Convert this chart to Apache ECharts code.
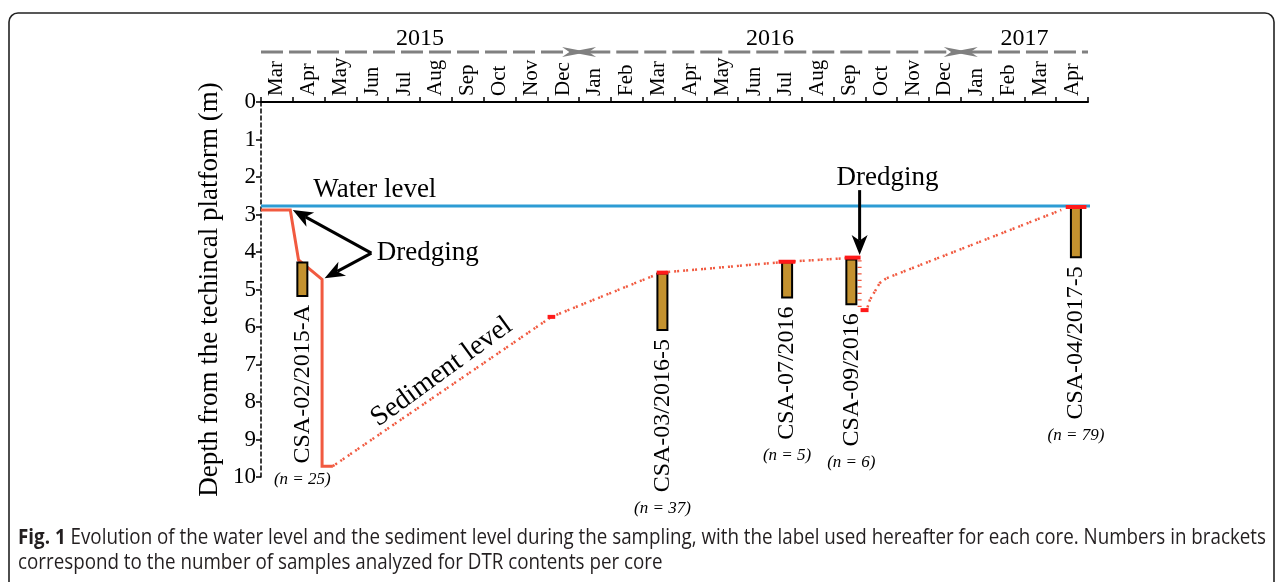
<!DOCTYPE html>
<html><head><meta charset="utf-8">
<script src="https://cdn.jsdelivr.net/npm/echarts/dist/echarts.min.js"></script>
<style>html,body{margin:0;padding:0;background:#fff}#c{width:1281px;height:582px}</style>
</head><body><div id="c"></div>
<script>
// ---------- data ----------
const months = ['Mar','Apr','May','Jun','Jul','Aug','Sep','Oct','Nov','Dec','Jan','Feb','Mar','Apr','May','Jun','Jul','Aug','Sep','Oct','Nov','Dec','Jan','Feb','Mar','Apr'];
const years = ['2015','2016','2017'];
const yearSpans = [[0,10],[10,22],[22,26]];          // months since 1 Mar 2015
const yearArrows = [[0,1],[1,1],[1,0]];             // arrow at start / end
const waterLevel = [[0,2.77],[26.1,2.77]];
const sedimentSolid = [[0,2.88],[0.92,2.88],[1.18,4.21],[1.92,4.73],[1.92,9.71],[2.26,9.71]];
const sedimentDotted1 = [[2.26,9.71],[9.13,5.73],[12.58,4.55],[16.52,4.26],[18.7,4.15]];
const sedimentDredge = [[18.82,4.22],[18.82,5.5]];
const sedimentDotted2 = [[19.04,5.55],[19.14,5.28],[19.45,4.83],[19.66,4.7],[25.16,2.88]];
const surveyMarks = [[9.01,9.25,5.73],[12.44,12.8,4.55],[16.27,16.8,4.26],[18.35,18.85,4.15],[18.85,19.1,5.55],[25.3,25.95,2.8]];
const coreNames = ['CSA-02/2015-A','CSA-03/2016-5','CSA-07/2016','CSA-09/2016','CSA-04/2017-5'];
const coreMonth = [1.30,12.62,16.54,18.56,25.62];
const coreTop = [4.28,4.57,4.27,4.2,2.79];
const coreBottom = [5.17,6.08,5.21,5.39,4.14];
const coreN = [25,37,5,6,79];
const arrows = [[3.47,4.03,1.0,2.88],[3.47,4.03,2.0,4.7],[18.82,2.35,18.82,4.08]];
const annoText = ['Water level','Dredging','Dredging','Sediment level'];
const annoPos = [[3.58,2.35],[5.24,4.03],[19.7,2.03],[5.68,7.2]];
const annoAngle = [0,0,0,36];
const yName = 'Depth from the techincal platform (m)';
const captionBold = 'Fig. 1';
const caption1 = ' Evolution of the water level and the sediment level during the sampling, with the label used hereafter for each core. Numbers in brackets';
const caption2 = 'correspond to the number of samples analyzed for DTR contents per core';

// ---------- helpers ----------
const SERIF = '"Liberation Serif","Times New Roman",serif';
const _ctx = document.createElement('canvas').getContext('2d');
function textW(t, font){ _ctx.font = font; return _ctx.measureText(t).width; }
function head(tip, dir, L, H, fill){
  const n = [-dir[1], dir[0]];
  const b = [tip[0]-dir[0]*L, tip[1]-dir[1]*L];
  const m = [tip[0]-dir[0]*L*0.72, tip[1]-dir[1]*L*0.72];
  return {type:'polygon', shape:{points:[tip,[b[0]+n[0]*H,b[1]+n[1]*H],m,[b[0]-n[0]*H,b[1]-n[1]*H]]}, style:{fill:fill}};
}
const RED = '#f15a40', CAP = '#ff1a1a';
const dotted = {color:RED, width:2.5, type:[2,1,2,4], cap:'butt'};

const chart = echarts.init(document.getElementById('c'), null, {renderer:'canvas'});
const option = {
  animation:false,
  backgroundColor:'#fff',
  grid:{left:261, right:193, top:102, bottom:105, containLabel:false, outerBoundsMode:'none'},
  xAxis:[
    {type:'category', data:months, position:'top', boundaryGap:true,
     axisLine:{show:true, onZero:false, lineStyle:{color:'#000', width:2}},
     axisTick:{show:true, inside:false, length:5, alignWithLabel:false, interval:0, lineStyle:{color:'#000', width:1.5}},
     axisLabel:{interval:0, rotate:-90, margin:6, color:'#000', fontFamily:SERIF, fontSize:21},
     splitLine:{show:false}},
    {type:'value', min:0, max:26, show:false, position:'top'}
  ],
  yAxis:{type:'value', inverse:true, min:0, max:10, interval:1, position:'left',
    name:yName, nameLocation:'middle', nameGap:38, nameMoveOverlap:false,
    nameTextStyle:{color:'#000', fontFamily:SERIF, fontSize:27},
    axisLine:{show:true, onZero:false, lineStyle:{color:'#000', width:1.5, type:[4,3]}},
    axisTick:{show:true, length:5, lineStyle:{color:'#000', width:1.5}},
    axisLabel:{margin:5, color:'#000', fontFamily:SERIF, fontSize:23},
    splitLine:{show:false}},
  series:[
    {type:'line', xAxisIndex:1, data:waterLevel, symbol:'none', clip:false, z:2,
     lineStyle:{color:'#2d9cd4', width:3}},
    {type:'line', xAxisIndex:1, data:sedimentSolid, symbol:'none', clip:false, z:3,
     lineStyle:{color:RED, width:3, join:'miter'}},
    {type:'line', xAxisIndex:1, data:sedimentDotted1, symbol:'none', clip:false, z:3, lineStyle:dotted},
    {type:'line', xAxisIndex:1, data:sedimentDotted2, symbol:'none', clip:false, z:3, lineStyle:dotted},
    {type:'line', xAxisIndex:1, data:sedimentDredge, symbol:'none', clip:false, z:3,
     lineStyle:{color:RED, width:4, type:[1.2,5.3], cap:'butt'}},
    {type:'custom', xAxisIndex:1, clip:false, z:4,
     data:coreMonth.map((m,i)=>[m,coreTop[i],coreBottom[i]]),
     renderItem:function(params, api){
       const i = params.dataIndex;
       const p1 = api.coord([api.value(0), api.value(1)]);
       const p2 = api.coord([api.value(0), api.value(2)]);
       const font = '24px ' + SERIF;
       const w = textW(coreNames[i], font);
       const ay = p2[1] + 9;
       return {type:'group', children:[
         {type:'rect', shape:{x:p1[0]-5, y:p1[1], width:10, height:p2[1]-p1[1]}, style:{fill:'#c4922f', stroke:'#000', lineWidth:2}},
         {type:'text', x:p1[0], y:ay, rotation:Math.PI/2, style:{text:coreNames[i], font:font, fill:'#000', align:'right', verticalAlign:'middle'}},
         {type:'text', x:p1[0], y:ay+w+16, style:{text:'(n = '+coreN[i]+')', font:'italic 17px '+SERIF, fill:'#000', align:'center', verticalAlign:'middle'}}
       ]};
     }},
    {type:'custom', xAxisIndex:1, clip:false, z:5, data:surveyMarks,
     renderItem:function(params, api){
       const a = api.coord([api.value(0), api.value(2)]);
       const b = api.coord([api.value(1), api.value(2)]);
       return {type:'line', shape:{x1:a[0], y1:a[1], x2:b[0], y2:b[1]}, style:{stroke:CAP, lineWidth:4}};
     }},
    {type:'custom', xAxisIndex:1, clip:false, z:6, data:arrows,
     renderItem:function(params, api){
       const a = api.coord([api.value(0), api.value(1)]);
       const b = api.coord([api.value(2), api.value(3)]);
       const dx = b[0]-a[0], dy = b[1]-a[1], len = Math.hypot(dx,dy);
       const d = [dx/len, dy/len];
       const L = 20;
       const e = [b[0]-d[0]*L*0.72, b[1]-d[1]*L*0.72];
       return {type:'group', children:[
         {type:'line', shape:{x1:a[0], y1:a[1], x2:e[0], y2:e[1]}, style:{stroke:'#000', lineWidth:3}},
         head(b, d, L, 8, '#000')
       ]};
     }},
    {type:'custom', xAxisIndex:1, clip:false, z:6, data:yearSpans.map((s,i)=>[s[0],s[1],yearArrows[i][0],yearArrows[i][1]]),
     renderItem:function(params, api){
       const i = params.dataIndex;
       const a = api.coord([api.value(0), 0]);
       const b = api.coord([api.value(1), 0]);
       const y = a[1] - 50;
       const ext = 9, L = 26, H = 5;
       const x1 = api.value(2) ? a[0]-ext : a[0];
       const x2 = api.value(3) ? b[0]+ext : b[0];
       const ch = [
         {type:'line', shape:{x1:api.value(2)? x1+L*0.7 : x1, y1:y, x2:api.value(3)? x2-L*0.7 : x2, y2:y},
          style:{stroke:'#808080', lineWidth:3, lineDash:[22,6]}},
         {type:'text', x:(a[0]+b[0])/2, y:a[1]-63, style:{text:years[i], font:'24px '+SERIF, fill:'#000', align:'center', verticalAlign:'middle'}}
       ];
       if (api.value(2)) ch.push(head([x1,y],[-1,0],L,H,'#808080'));
       if (api.value(3)) ch.push(head([x2,y],[1,0],L,H,'#808080'));
       return {type:'group', children:ch};
     }},
    {type:'custom', xAxisIndex:1, clip:false, z:6, data:annoPos.map((p,i)=>[p[0],p[1],annoAngle[i]]),
     renderItem:function(params, api){
       const i = params.dataIndex;
       const p = api.coord([api.value(0), api.value(1)]);
       return {type:'text', x:p[0], y:p[1], rotation:api.value(2)*Math.PI/180,
         style:{text:annoText[i], font:(i===3?'28px ':'27px ')+SERIF, fill:'#000', align:'center', verticalAlign:'middle'}};
     }}
  ]
};
chart.setOption(option);

// caption & frame
const capFont = '21px "Open Sans", sans-serif';
const capBold = 'bold 21px "Open Sans", sans-serif';
const w1 = textW(captionBold, capBold) + textW(caption1, capFont);
const sx = 1248 / w1;
chart.setOption({graphic:[
  {type:'rect', shape:{x:9, y:13, width:1265, height:600, r:9}, style:{fill:'none', stroke:'#222', lineWidth:1.6}, z:-1},
  {type:'text', x:18, y:538, scaleX:sx, style:{text:'{b|'+captionBold+'}{n|'+caption1+'}', verticalAlign:'middle',
    rich:{b:{font:capBold, fill:'#231f20'}, n:{font:capFont, fill:'#231f20'}}}},
  {type:'text', x:18, y:563, scaleX:sx, style:{text:caption2, font:capFont, fill:'#231f20', verticalAlign:'middle'}}
]});
</script>
</body></html>
